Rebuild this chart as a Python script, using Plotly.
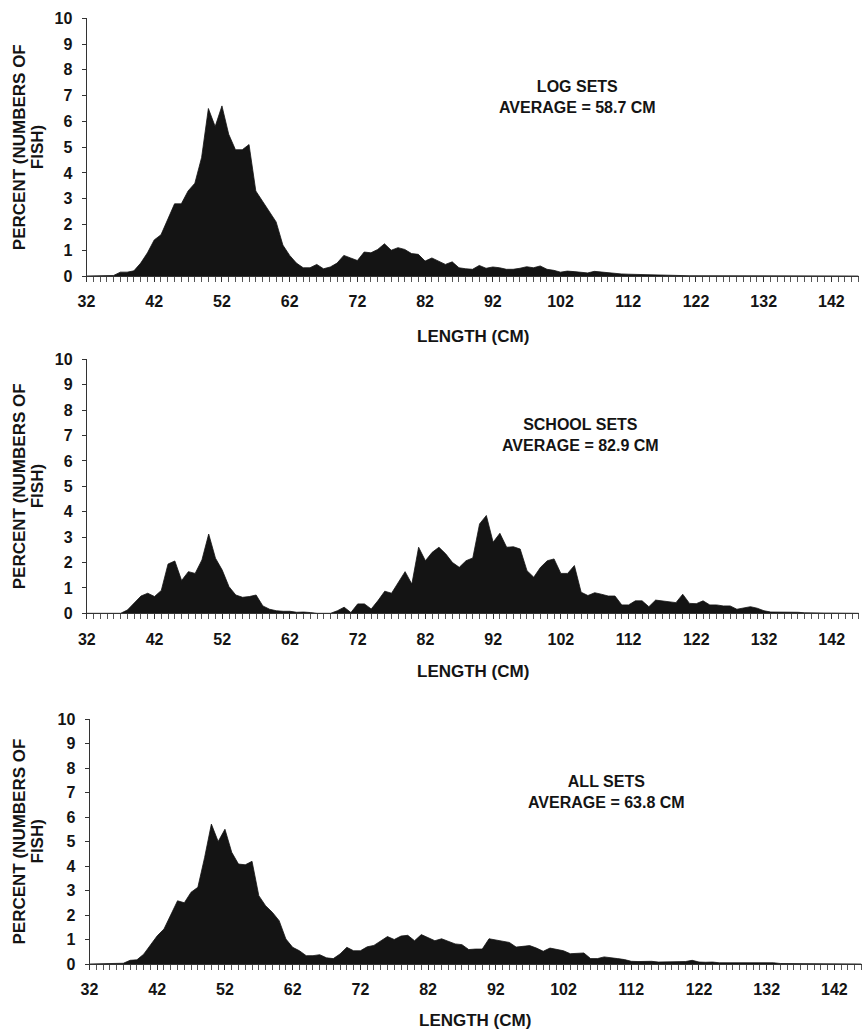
import plotly.graph_objects as go

W, H = 866, 1032

lengths = list(range(32, 147))

log_sets = [
    0.0, 0.0, 0.02, 0.02, 0.02, 0.15, 0.15, 0.2, 0.5, 0.9,          # 32-41
    1.4, 1.6, 2.2, 2.8, 2.8, 3.3, 3.6, 4.6, 6.5, 5.8,               # 42-51
    6.6, 5.5, 4.9, 4.9, 5.1, 3.3, 2.9, 2.5, 2.1, 1.2,               # 52-61
    0.8, 0.5, 0.32, 0.32, 0.45, 0.28, 0.35, 0.5, 0.8, 0.7,          # 62-71
    0.6, 0.93, 0.9, 1.03, 1.25, 1.0, 1.1, 1.03, 0.87, 0.84,         # 72-81
    0.58, 0.7, 0.58, 0.45, 0.55, 0.32, 0.28, 0.26, 0.41, 0.3,       # 82-91
    0.35, 0.32, 0.26, 0.26, 0.3, 0.36, 0.32, 0.39, 0.26, 0.22,      # 92-101
    0.15, 0.19, 0.17, 0.15, 0.12, 0.18, 0.15, 0.12, 0.1, 0.08,      # 102-111
    0.07, 0.06, 0.05, 0.04, 0.03, 0.02, 0.02, 0.01, 0.01, 0.01,     # 112-121
    0.01, 0.01, 0.01, 0.01, 0.01, 0.0, 0.0, 0.0, 0.0, 0.0,          # 122-131
    0.0, 0.0, 0.0, 0.0, 0.0, 0.0, 0.0, 0.0, 0.0, 0.0,               # 132-141
    0.0, 0.0, 0.0, 0.0, 0.0,                                        # 142-146
]

school_sets = [
    0.0, 0.0, 0.0, 0.0, 0.0, 0.0, 0.13, 0.4, 0.68, 0.79,            # 32-41
    0.66, 0.9, 1.94, 2.06, 1.29, 1.64, 1.57, 2.1, 3.12, 2.17,       # 42-51
    1.7, 1.05, 0.72, 0.63, 0.66, 0.72, 0.29, 0.16, 0.1, 0.08,       # 52-61
    0.08, 0.04, 0.05, 0.03, 0.0, 0.0, 0.0, 0.1, 0.24, 0.03,         # 62-71
    0.37, 0.37, 0.17, 0.5, 0.87, 0.79, 1.22, 1.64, 1.15, 2.6,       # 72-81
    2.07, 2.4, 2.6, 2.34, 2.0, 1.81, 2.07, 2.18, 3.52, 3.85,        # 82-91
    2.8, 3.15, 2.6, 2.62, 2.53, 1.68, 1.42, 1.81, 2.07, 2.14,       # 92-101
    1.57, 1.57, 1.88, 0.83, 0.7, 0.81, 0.75, 0.68, 0.68, 0.33,      # 102-111
    0.33, 0.49, 0.49, 0.26, 0.52, 0.49, 0.46, 0.42, 0.75, 0.39,     # 112-121
    0.38, 0.49, 0.33, 0.33, 0.29, 0.29, 0.16, 0.22, 0.26, 0.2,      # 122-131
    0.1, 0.05, 0.05, 0.05, 0.05, 0.04, 0.02, 0.01, 0.01, 0.01,      # 132-141
    0.01, 0.01, 0.0, 0.0, 0.0,                                      # 142-146
]

all_sets = [
    0.0, 0.0, 0.02, 0.02, 0.02, 0.03, 0.15, 0.17, 0.4, 0.75,        # 32-41
    1.15, 1.43, 2.04, 2.58, 2.5, 2.93, 3.13, 4.35, 5.71, 5.0,       # 42-51
    5.5, 4.56, 4.08, 4.05, 4.19, 2.79, 2.38, 2.11, 1.77, 1.02,      # 52-61
    0.68, 0.54, 0.34, 0.34, 0.38, 0.25, 0.22, 0.41, 0.68, 0.54,     # 62-71
    0.54, 0.7, 0.76, 0.93, 1.12, 1.0, 1.14, 1.17, 0.95, 1.2,        # 72-81
    1.06, 0.95, 1.03, 0.93, 0.82, 0.79, 0.59, 0.61, 0.61, 1.03,     # 82-91
    0.98, 0.93, 0.88, 0.69, 0.72, 0.75, 0.65, 0.52, 0.65, 0.61,     # 92-101
    0.54, 0.42, 0.45, 0.45, 0.22, 0.22, 0.29, 0.24, 0.22, 0.18,     # 102-111
    0.11, 0.1, 0.11, 0.11, 0.08, 0.08, 0.08, 0.08, 0.1, 0.15,       # 112-121
    0.08, 0.07, 0.08, 0.05, 0.05, 0.05, 0.04, 0.04, 0.07, 0.07,     # 122-131
    0.07, 0.05, 0.02, 0.02, 0.01, 0.01, 0.01, 0.0, 0.0, 0.0,        # 132-141
    0.0, 0.0, 0.0, 0.0, 0.0,                                        # 142-146
]

panel_titles = ["LOG SETS", "SCHOOL SETS", "ALL SETS"]
panel_averages = ["AVERAGE = 58.7 CM", "AVERAGE = 82.9 CM", "AVERAGE = 63.8 CM"]
x_tick_values = list(range(32, 143, 10))
y_tick_values = list(range(0, 11))

FONT = "Liberation Sans, Arial, sans-serif"
INK = "#141414"

# pixel layout per panel: (x_left, x_right, y_top(10), y_bottom(0))
panels = [
    (86.5, 858.5, 18.3, 276.0),
    (86.8, 858.8, 359.3, 613.3),
    (89.5, 861.5, 719.0, 964.0),
]
# annotation positions (pixel centre x, centre y of the two-line block)
text_pos = [(577, 97), (580, 435), (606, 792)]
# centre y of the x-axis title under each panel
xtitle_y = [336, 671, 1020]

fig = go.Figure()
series = [log_sets, school_sets, all_sets]

for i, (vals, (xl, xr, yt, yb)) in enumerate(zip(series, panels)):
    n = "" if i == 0 else str(i + 1)
    fig.add_trace(go.Scatter(
        x=lengths, y=vals, mode="lines", fill="tozeroy",
        line=dict(color=INK, width=0.8), fillcolor=INK,
        xaxis="x" + n, yaxis="y" + n, showlegend=False, hoverinfo="x+y",
    ))
    fig.update_layout(**{
        "xaxis" + n: dict(
            domain=[xl / W, xr / W], anchor="y" + n, range=[32, 146],
            tickmode="array", tickvals=x_tick_values,
            ticks="outside", ticklen=5, tickwidth=1, tickcolor="#333",
            minor=dict(dtick=1, tick0=32, ticks="outside", ticklen=5,
                       tickwidth=1, tickcolor="#555", showgrid=False),
            showline=True, linecolor="#333", linewidth=1,
            showgrid=False, zeroline=False, automargin=False,
            tickfont=dict(family=FONT, size=16, color=INK, weight="bold"),
            ticklabelstandoff=6,
        ),
        "yaxis" + n: dict(
            domain=[1 - yb / H, 1 - yt / H], anchor="x" + n, range=[0, 10],
            tickmode="array", tickvals=y_tick_values,
            ticks="outside", ticklen=4, tickwidth=1, tickcolor="#333",
            showline=True, linecolor="#333", linewidth=1,
            showgrid=False, zeroline=False, automargin=False,
            tickfont=dict(family=FONT, size=16, color=INK, weight="bold"),
            ticklabelstandoff=6,
        ),
    })
    yc = (yt + yb) / 2
    # y-axis title (two lines)
    fig.add_annotation(text="PERCENT (NUMBERS OF", textangle=-90,
                       x=19 / W, y=1 - yc / H, xref="paper", yref="paper",
                       showarrow=False, xanchor="center", yanchor="middle",
                       font=dict(family=FONT, size=17, color=INK, weight="bold"))
    fig.add_annotation(text="FISH)", textangle=-90,
                       x=37 / W, y=1 - yc / H, xref="paper", yref="paper",
                       showarrow=False, xanchor="center", yanchor="middle",
                       font=dict(family=FONT, size=17, color=INK, weight="bold"))
    # x-axis title
    fig.add_annotation(text="LENGTH (CM)", x=((xl + xr) / 2) / W,
                       y=1 - xtitle_y[i] / H, xref="paper", yref="paper",
                       showarrow=False, xanchor="center", yanchor="middle",
                       font=dict(family=FONT, size=17, color=INK, weight="bold"))
    # panel label (two lines)
    tx, ty = text_pos[i]
    fig.add_annotation(text=panel_titles[i] + "<br>" + panel_averages[i],
                       x=tx / W, y=1 - ty / H,
                       xref="paper", yref="paper", showarrow=False,
                       xanchor="center", yanchor="middle", align="center",
                       font=dict(family=FONT, size=16, color=INK, weight="bold"))

fig.update_layout(
    width=W, height=H, margin=dict(l=0, r=0, t=0, b=0),
    paper_bgcolor="white", plot_bgcolor="white",
    showlegend=False,
)

fig.write_html("out.html")
